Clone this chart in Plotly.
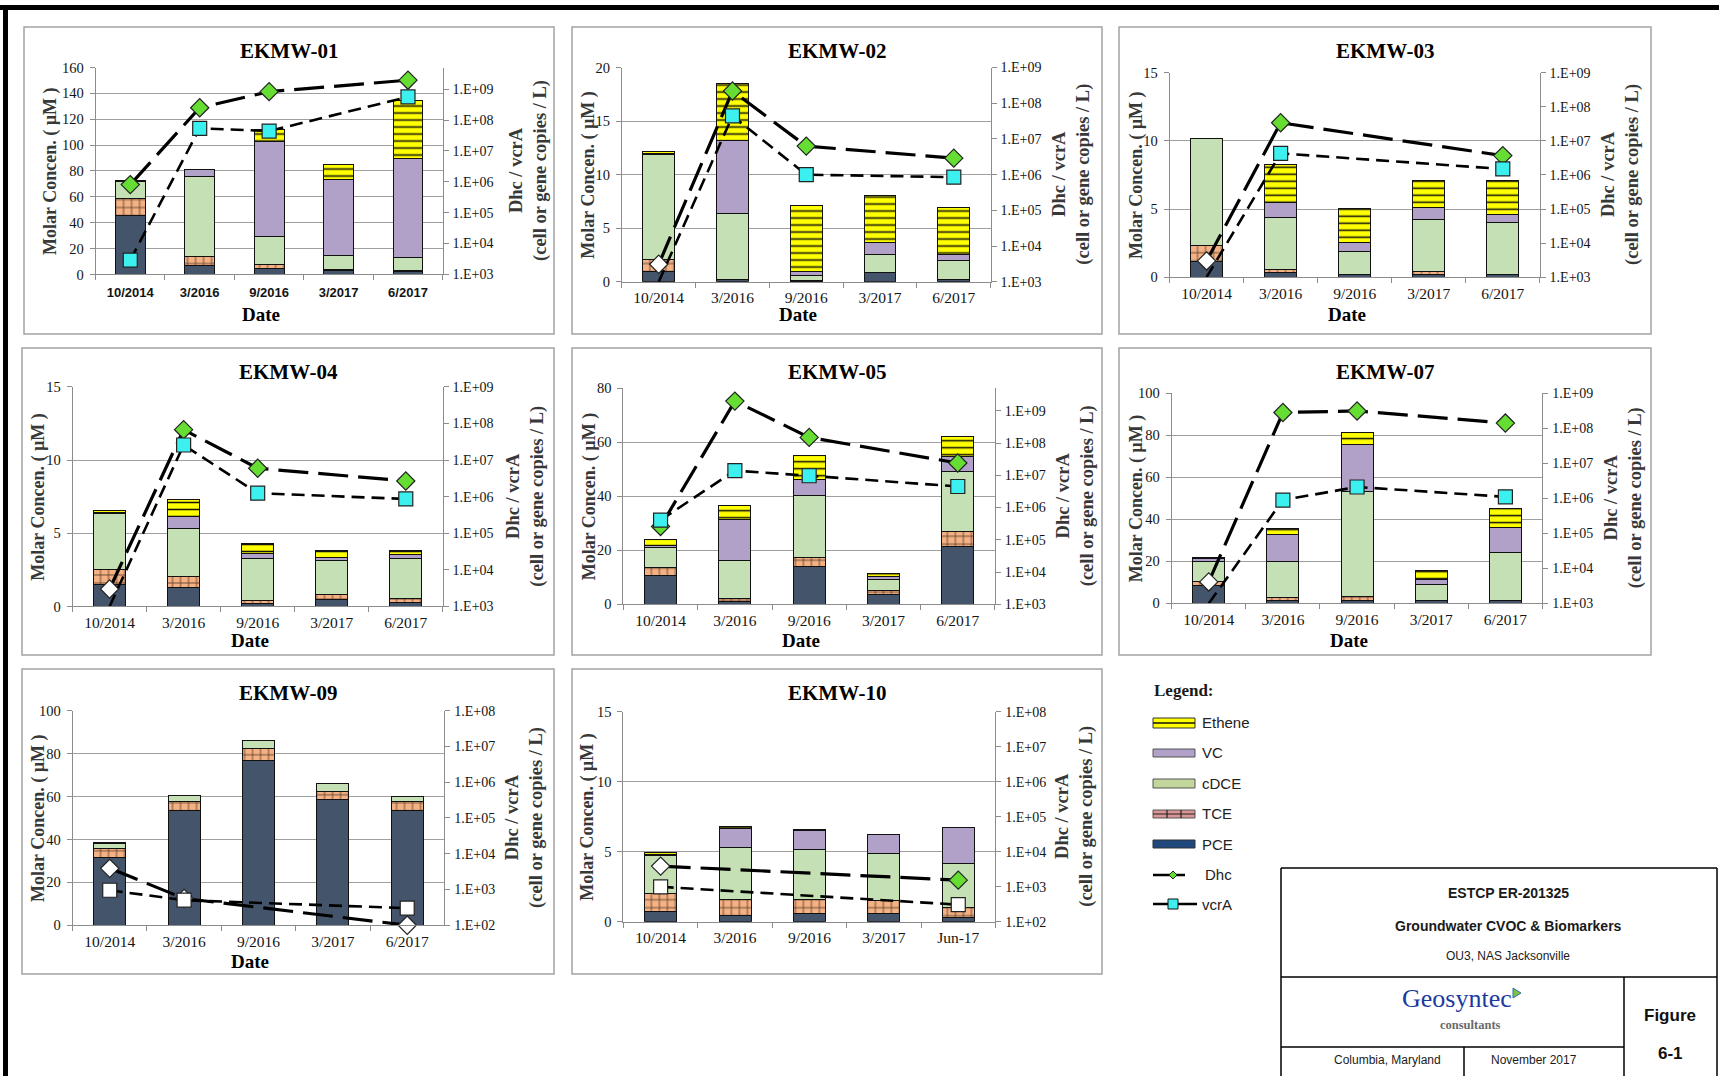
import plotly.graph_objects as go

W, H = 1719, 1076


def px(x):
    return x / W


def py(y):
    return 1 - y / H


# ---------------------------------------------------------------- data
WELLS = ["EKMW-01", "EKMW-02", "EKMW-03", "EKMW-04",
         "EKMW-05", "EKMW-07", "EKMW-09", "EKMW-10"]
DATES = ["10/2014", "3/2016", "9/2016", "3/2017", "6/2017"]
DATES_EKMW10 = ["10/2014", "3/2016", "9/2016", "3/2017", "Jun-17"]

# molar concentrations (uM): one row per well, one column per sampling event
PCE = [
    [45.8, 6.7, 4.7, 2.8, 2.0],
    [0.94, 0.25, 0.05, 0.9, 0.25],
    [1.15, 0.35, 0.17, 0.17, 0.17],
    [1.5, 1.32, 0.23, 0.45, 0.27],
    [10.8, 1.0, 13.9, 3.8, 21.4],
    [8.3, 1.6, 1.6, 1.3, 1.3],
    [31.4, 53.7, 76.8, 58.6, 53.7],
    [0.72, 0.43, 0.62, 0.62, 0.31],
]
TCE = [
    [12.7, 6.8, 3.1, 1.1, 1.2],
    [1.16, 0.0, 0.05, 0.0, 0.0],
    [1.15, 0.25, 0.0, 0.23, 0.0],
    [1.05, 0.73, 0.17, 0.35, 0.25],
    [2.7, 1.0, 3.6, 1.2, 5.7],
    [2.1, 1.3, 1.9, 0.0, 0.0],
    [4.4, 4.2, 5.6, 3.9, 3.8],
    [1.28, 1.17, 0.98, 0.93, 0.69],
]
CDCE = [
    [13.5, 62.4, 21.2, 11.1, 10.0],
    [9.8, 6.1, 0.5, 1.65, 1.75],
    [7.85, 3.8, 1.69, 3.86, 3.87],
    [3.83, 3.3, 2.9, 2.32, 2.78],
    [7.7, 14.3, 22.9, 4.3, 21.9],
    [9.5, 17.0, 49.6, 7.8, 23.1],
    [2.3, 2.8, 3.8, 3.4, 2.4],
    [2.73, 3.7, 3.58, 3.35, 3.18],
]
VC = [
    [0.3, 5.6, 74.0, 58.8, 76.4],
    [0.1, 6.85, 0.4, 1.1, 0.55],
    [0.0, 1.05, 0.69, 0.89, 0.59],
    [0.05, 0.8, 0.3, 0.23, 0.23],
    [0.5, 15.0, 5.8, 1.0, 5.9],
    [1.3, 12.8, 22.3, 2.4, 11.5],
    [0.3, 0.0, 0.0, 0.2, 0.2],
    [0.09, 1.34, 1.32, 1.36, 2.55],
]
ETHENE = [
    [0.3, 0.0, 9.0, 11.2, 45.0],
    [0.15, 5.3, 6.1, 4.45, 4.35],
    [0.05, 2.8, 2.52, 1.91, 2.43],
    [0.15, 1.14, 0.73, 0.48, 0.3],
    [2.4, 5.2, 9.0, 1.1, 7.3],
    [0.6, 2.7, 5.9, 4.0, 9.2],
    [0.0, 0.0, 0.0, 0.0, 0.0],
    [0.1, 0.19, 0.07, 0.0, 0.0],
]

# biomarkers (cells or gene copies / L); None = not analysed
DHC = [
    [8.1e5, 2.5e8, 8.3e8, None, 1.95e9],
    [3.1e3, 2.2e8, 6.3e6, None, 2.9e6],
    [3.0e3, 3.4e7, None, None, 3.7e6],
    [3.0e3, 6.8e7, 6.0e6, None, 2.7e6],
    [2.6e5, 2.0e9, 1.5e8, None, 2.4e7],
    [4.1e3, 2.8e8, 3.1e8, None, 1.4e8],
    [3.9e3, 5.6e2, None, None, 1.0e2],
    [3.9e3, None, None, None, 1.55e3],
]
DHC_DETECTED = [
    [True, True, True, False, True],
    [False, True, True, False, True],
    [False, True, False, False, True],
    [False, True, True, False, True],
    [True, True, True, False, True],
    [False, True, True, False, True],
    [False, False, False, False, False],
    [False, False, False, False, True],
]
VCRA = [
    [2.9e3, 5.4e7, 4.4e7, None, 5.6e8],
    [1.0e3, 4.4e7, 1.0e6, None, 8.5e5],
    [1.0e3, 4.3e6, None, None, 1.5e6],
    [1.0e3, 2.6e7, 1.25e6, None, 8.7e5],
    [4.1e5, 1.4e7, 9.7e6, None, 4.5e6],
    [1.0e3, 8.9e5, 2.1e6, None, 1.1e6],
    [9.5e2, 5.0e2, None, None, 3.0e2],
    [1.0e3, None, None, None, 3.1e2],
]
VCRA_DETECTED = [
    [True, True, True, False, True],
    [False, True, True, False, True],
    [False, True, False, False, True],
    [False, True, True, False, True],
    [True, True, True, False, True],
    [False, True, True, False, True],
    [False, False, False, False, False],
    [False, False, False, False, False],
]

LEFT_MAX = [160, 20, 15, 15, 80, 100, 100, 15]
LEFT_STEP = [20, 5, 5, 5, 20, 20, 20, 5]
LOG_RANGE = [(3, 9.7), (3, 9), (3, 9), (3, 9), (3, 9.7), (3, 9), (2, 8), (2, 8)]

# ---------------------------------------------------------------- layout
BOXES = [(24, 27, 554, 334), (572, 27, 1102, 334), (1119, 27, 1651, 334),
         (22, 348, 554, 655), (572, 348, 1102, 655), (1119, 348, 1651, 655),
         (22, 669, 554, 974), (572, 669, 1102, 974)]
PLOT_FRAC = [(.135, .790, .132, .806), (.094, .790, .132, .830),
             (.095, .791, .149, .815), (.095, .791, .127, .842),
             (.097, .798, .131, .835), (.099, .796, .147, .832),
             (.095, .794, .137, .840), (.097, .799, .140, .829)]
LEFT_TITLE_OFF = [27, 17, 18, 17, 17, 17, 17, 16]
RIGHT_TITLE_OFF = [25, 30, 30, 28, 27, 28, 29, 27]
DATE_FRAC = [.938, .938, .938, .953, .952, .953, .96, None]

SERIF = "Liberation Serif, Times New Roman, serif"
SANS = "Liberation Sans, Arial, sans-serif"
AXIS_GRAY = "#8C8C8C"
GRID_GRAY = "#A0A0A0"
TEXT_DARK = "#141414"
TITLE_DARK = "#383838"

PCE_C, TCE_C, CDCE_C, VC_C, ETH_C = "#44546A", "#F4B183", "#C5E0B4", "#B1A0C7", "#FFFF00"
DHC_C, VCRA_C = "#66DD33", "#3CF0F0"

SERIES = [
    ("PCE", PCE, PCE_C, None),
    ("TCE", TCE, TCE_C, dict(shape="+", fgcolor="#4a3020", bgcolor=TCE_C, size=8, solidity=0.18)),
    ("cDCE", CDCE, CDCE_C, None),
    ("VC", VC, VC_C, None),
    ("Ethene", ETHENE, ETH_C, dict(shape="-", fgcolor="#111111", bgcolor=ETH_C, size=7, solidity=0.22)),
]

fig = go.Figure()
axes = {}
annotations = []
shapes = []


def note(text, x, y, size, family=SERIF, color="black", weight="normal",
         angle=0, xanchor="center"):
    annotations.append(dict(text=text, x=px(x), y=py(y), xref="paper", yref="paper",
                            xanchor=xanchor, yanchor="middle", textangle=angle,
                            showarrow=False,
                            font=dict(family=family, size=size, color=color, weight=weight)))


for i, well in enumerate(WELLS):
    k = i + 1
    xa = "x" if k == 1 else f"x{k}"
    yl = "y" if k == 1 else f"y{2 * k - 1}"
    yr = f"y{2 * k}"
    cats = DATES_EKMW10 if well == "EKMW-10" else DATES

    bx0, by0, bx1, by1 = BOXES[i]
    bw, bh = bx1 - bx0, by1 - by0
    fl, fr, ft, fb = PLOT_FRAC[i]
    ax_l, ax_r = bx0 + fl * bw, bx0 + fr * bw
    ax_t, ax_b = by0 + ft * bh, by0 + fb * bh

    # stacked CVOC bars
    for name, arr, color, pattern in SERIES:
        marker = dict(color=color, line=dict(color="#111111", width=1))
        if pattern:
            marker["pattern"] = pattern
        fig.add_trace(go.Bar(x=cats, y=arr[i], name=name, xaxis=xa, yaxis=yl,
                             marker=marker, showlegend=False))

    # biomarker lines on the log axis
    fig.add_trace(go.Scatter(
        x=cats, y=DHC[i], name="Dhc", xaxis=xa, yaxis=yr, mode="lines+markers",
        connectgaps=True, cliponaxis=False, showlegend=False,
        line=dict(color="black", width=3.2, dash="30px,10px"),
        marker=dict(symbol="diamond", size=14,
                    color=[DHC_C if d else "white" for d in DHC_DETECTED[i]],
                    line=dict(color="#222222", width=1.2))))
    fig.add_trace(go.Scatter(
        x=cats, y=VCRA[i], name="vcrA", xaxis=xa, yaxis=yr, mode="lines+markers",
        connectgaps=True, cliponaxis=False, showlegend=False,
        line=dict(color="black", width=2.6, dash="13px,7px"),
        marker=dict(symbol="square", size=14,
                    color=[VCRA_C if d else "white" for d in VCRA_DETECTED[i]],
                    line=dict(color="#222222", width=1.2))))

    if k == 1:
        xfont = dict(family=SANS, size=13, color=TEXT_DARK, weight="bold")
        xstand = 6
    else:
        xfont = dict(family=SERIF, size=15.5, color=TEXT_DARK)
        xstand = 2

    axes["xaxis" if k == 1 else f"xaxis{k}"] = dict(
        domain=[px(ax_l), px(ax_r)], anchor=yl, type="category",
        range=[-0.5, 4.5], tickson="boundaries", ticks="outside", ticklen=5,
        tickcolor=AXIS_GRAY, showline=True, linecolor=AXIS_GRAY, linewidth=1,
        showgrid=False, zeroline=False, tickfont=xfont, ticklabelstandoff=xstand,
        automargin=False, fixedrange=True)
    axes["yaxis" if k == 1 else f"yaxis{2 * k - 1}"] = dict(
        domain=[py(ax_b), py(ax_t)], anchor=xa, range=[0, LEFT_MAX[i]],
        tick0=0, dtick=LEFT_STEP[i], ticks="outside", ticklen=5,
        tickcolor=AXIS_GRAY, showline=True, linecolor=AXIS_GRAY, linewidth=1,
        showgrid=True, gridcolor=GRID_GRAY, gridwidth=1, zeroline=False,
        tickfont=dict(family=SERIF, size=14.5, color=TEXT_DARK), ticklabelstandoff=3,
        automargin=False, fixedrange=True)
    lo, hi = LOG_RANGE[i]
    decades = list(range(int(lo), int(hi) + 1))
    axes[f"yaxis{2 * k}"] = dict(
        overlaying=yl, side="right", anchor=xa, type="log", range=[lo, hi],
        tickvals=[10 ** e for e in decades],
        ticktext=[f"1.E+{e:02d}" for e in decades],
        ticks="outside", ticklen=5, tickcolor=AXIS_GRAY, showline=True,
        linecolor=AXIS_GRAY, linewidth=1, showgrid=False, zeroline=False,
        tickfont=dict(family=SERIF, size=14, color=TEXT_DARK), ticklabelstandoff=1,
        automargin=False, fixedrange=True)

    # chart frame
    shapes.append(dict(type="rect", xref="paper", yref="paper",
                       x0=px(bx0), x1=px(bx1), y0=py(by1), y1=py(by0),
                       line=dict(color="#A3A3A3", width=1.5)))

    mid_y = (ax_t + ax_b) / 2
    note(well, (bx0 + bx1) / 2, by0 + 0.079 * bh, 21, weight="bold")
    note("Molar Concen. ( \u00b5M )", bx0 + LEFT_TITLE_OFF[i], mid_y, 18,
         color=TITLE_DARK, weight="bold", angle=-90)
    note("Dhc / vcrA<br>(cell or gene copies / L)", bx1 - RIGHT_TITLE_OFF[i], mid_y, 18.5,
         color=TITLE_DARK, weight="bold", angle=-90)
    if DATE_FRAC[i] is not None:
        note("Date", (ax_l + ax_r) / 2 - 8, by0 + DATE_FRAC[i] * bh, 19, weight="bold")


def line(x0, y0, x1, y1, color="black", width=1.5):
    shapes.append(dict(type="line", xref="paper", yref="paper",
                       x0=px(x0), y0=py(y0), x1=px(x1), y1=py(y1),
                       line=dict(color=color, width=width)))


def rect(x0, y0, x1, y1, fill, edge="#444444", width=1):
    shapes.append(dict(type="rect", xref="paper", yref="paper",
                       x0=px(x0), y0=py(y1), x1=px(x1), y1=py(y0),
                       fillcolor=fill, line=dict(color=edge, width=width)))


def label(text, x, y, size=15, family=SANS, color="#222222", anchor="left", weight="normal"):
    note(text, x, y, size, family=family, color=color, weight=weight, xanchor=anchor)


# page border
rect(0, 5, W, 10, "black", edge="black", width=0)
rect(3, 5, 8, H, "black", edge="black", width=0)

# legend
label("Legend:", 1152, 690, size=17, family=SERIF, color="#1a1a1a", weight="bold")
SW0, SW1, TXT_X = 1153, 1195, 1200
rect(SW0, 718, SW1, 728, ETH_C, edge="#333333")
line(SW0, 723, SW1, 723, color="#111111", width=1.5)
label("Ethene", TXT_X, 722)
rect(SW0, 749, SW1, 757, VC_C, edge="#555555")
label("VC", TXT_X, 752)
rect(SW0, 779, SW1, 788, "#C3D69B", edge="#555555")
label("cDCE", TXT_X, 783)
rect(SW0, 810, SW1, 818, "#D99694", edge="#555555")
line(SW0, 814, SW1, 814, color="#222222", width=1.2)
line(1167, 810, 1167, 818, color="#222222", width=1.2)
line(1181, 810, 1181, 818, color="#222222", width=1.2)
label("TCE", TXT_X, 813)
rect(SW0, 840, SW1, 848, "#1F497D", edge="#333333")
label("PCE", TXT_X, 844)
line(SW0, 875, 1185, 875, color="black", width=2.5)
shapes.append(dict(type="path", xref="paper", yref="paper",
                   path=f"M {px(1173)},{py(871)} L {px(1177)},{py(875)} L {px(1173)},{py(879)} "
                        f"L {px(1169)},{py(875)} Z",
                   fillcolor=DHC_C, line=dict(color="#222222", width=1)))
label("Dhc", 1203, 874)
line(SW0, 904, 1197, 904, color="black", width=2.5)
rect(1168, 899, 1178, 909, VCRA_C, edge="#111111")
label("vcrA", 1200, 904)

# title block
line(1281, 868, 1717, 868)
line(1281, 868, 1281, H)
line(1717, 868, 1717, H)
line(1281, 977, 1717, 977)
line(1624, 977, 1624, H)
line(1281, 1047, 1624, 1047)
line(1464, 1047, 1464, H)
label("ESTCP ER-201325", 1508, 893, size=14, color="#1a1a1a", anchor="center", weight="bold")
label("Groundwater CVOC &amp; Biomarkers", 1508, 926, size=14, color="#1a1a1a", anchor="center", weight="bold")
label("OU3, NAS Jacksonville", 1508, 956, size=12, color="#1a1a1a", anchor="center")
label("Geosyntec", 1457, 998, size=26, family=SERIF, color="#1C3A9E", anchor="center")
shapes.append(dict(type="path", xref="paper", yref="paper",
                   path=f"M {px(1513)},{py(988)} L {px(1521)},{py(993)} L {px(1513)},{py(998)} Z",
                   fillcolor="#7DC242", line=dict(color="#2E6DB4", width=1)))
label("consultants", 1470, 1025, size=12.5, family=SERIF, color="#6a6a6a", anchor="center", weight="bold")
label("Figure", 1670, 1015, size=17, color="#111111", anchor="center", weight="bold")
label("6-1", 1670, 1053, size=17, color="#111111", anchor="center", weight="bold")
label("Columbia, Maryland", 1387, 1060, size=12, color="#1a1a1a", anchor="center")
label("November 2017", 1534, 1060, size=12, color="#1a1a1a", anchor="center")

fig.update_layout(
    template="none",
    width=W, height=H, autosize=False,
    margin=dict(l=0, r=0, t=0, b=0, pad=0),
    paper_bgcolor="white", plot_bgcolor="white",
    barmode="stack", bargap=0.57, showlegend=False,
    annotations=annotations, shapes=shapes, **axes)

fig.write_html("out.html")
